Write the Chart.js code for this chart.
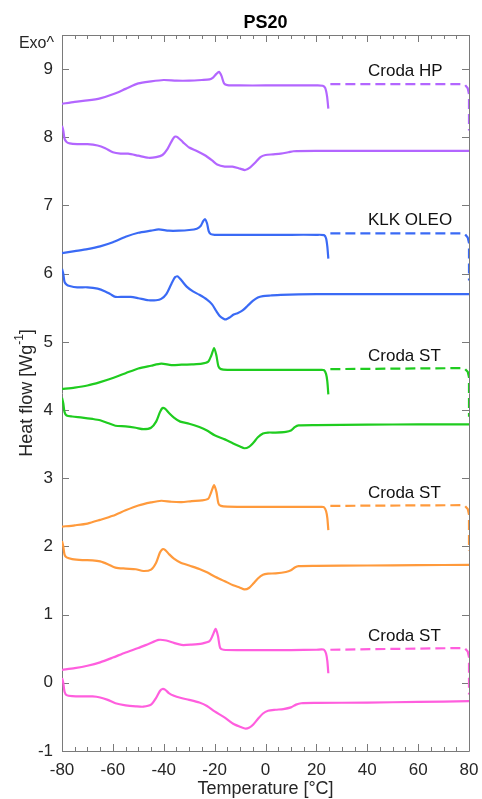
<!DOCTYPE html>
<html>
<head>
<meta charset="utf-8">
<script src="https://cdn.jsdelivr.net/npm/chart.js@4.4.1/dist/chart.umd.min.js"></script>
<style>
  html, body { margin: 0; padding: 0; background: #ffffff; }
  #wrap { width: 482px; height: 799px; }
</style>
</head>
<body>
<div id="wrap"><canvas id="c" width="482" height="799"></canvas></div>
<script>
// ---------------- data ----------------
const chartTitle = 'PS20';
const xAxisTitle = 'Temperature [°C]';
const sampleNames = ['Croda HP', 'KLK OLEO', 'Croda ST', 'Croda ST', 'Croda ST'];
const xTickValues = [-80, -60, -40, -20, 0, 20, 40, 60, 80];
const yTickValues = [-1, 0, 1, 2, 3, 4, 5, 6, 7, 8, 9];

// Croda HP (purple)
const hpCoolT = [-80,-75,-70,-65,-60,-55,-50,-45,-40,-35,-30,-25,-22,-20.5,-19.3,-18.3,-17.3,-16.3,-15,-10,0,10,20,22.5,23.5,24.2,24.7];
const hpCoolQ = [8.49,8.52,8.54,8.57,8.63,8.71,8.79,8.82,8.84,8.83,8.83,8.84,8.85,8.88,8.93,8.96,8.90,8.79,8.765,8.76,8.76,8.76,8.76,8.755,8.72,8.60,8.42];
const hpHeatT = [-80,-79.5,-79,-78.2,-77,-74,-70,-66,-63,-60,-57,-54,-50,-46,-43,-40.5,-38.5,-36.5,-35.5,-34.5,-32.5,-30,-27,-24,-21,-19,-16,-13,-10,-8,-6,-4,-2,0,3,6,9,11,20,40,60,80];
const hpHeatQ = [8.17,8.10,7.98,7.93,7.91,7.90,7.90,7.88,7.84,7.78,7.76,7.76,7.73,7.70,7.71,7.74,7.83,7.97,8.01,8.00,7.93,7.85,7.80,7.74,7.66,7.60,7.57,7.57,7.54,7.52,7.56,7.63,7.71,7.74,7.75,7.76,7.78,7.795,7.80,7.80,7.80,7.80];
const hpLinkT = [25.5,77,78.5,79.5,80,80];
const hpLinkQ = [8.78,8.78,8.765,8.72,8.63,8.10];

// KLK OLEO (blue)
const klkCoolT = [-80,-75,-70,-65,-60,-55,-50,-45,-42,-38,-34,-30,-27,-25.5,-24.5,-23.8,-23,-22.3,-21.5,-20,-10,0,10,20,23,23.8,24.3,24.7];
const klkCoolQ = [6.30,6.33,6.36,6.40,6.46,6.54,6.60,6.63,6.65,6.63,6.63,6.64,6.66,6.70,6.77,6.80,6.74,6.62,6.58,6.57,6.57,6.57,6.57,6.57,6.565,6.52,6.40,6.22];
const klkHeatT = [-80,-79.5,-79,-78.2,-77,-74,-70,-66,-63,-61,-59,-56,-53,-50,-46,-43,-41,-39,-37,-35.5,-34.5,-33,-31,-28.5,-26,-23,-21,-19.5,-18,-16.5,-15.5,-14,-12.5,-11,-9,-7,-5,-3,-1,2,6,20,40,60,80];
const klkHeatQ = [6.07,6.00,5.88,5.84,5.82,5.80,5.80,5.78,5.74,5.70,5.66,5.66,5.66,5.64,5.61,5.61,5.63,5.70,5.85,5.95,5.96,5.90,5.81,5.74,5.69,5.62,5.55,5.46,5.38,5.34,5.33,5.36,5.40,5.42,5.46,5.53,5.60,5.65,5.67,5.68,5.69,5.70,5.70,5.70,5.70];
const klkLinkT = [25.5,77,78.5,79.5,80,80];
const klkLinkQ = [6.59,6.59,6.575,6.53,6.45,5.90];

// Croda ST #1 (green)
const st1CoolT = [-80,-75,-70,-65,-60,-55,-50,-45,-41,-37,-33,-29,-25,-22.5,-21.3,-20.2,-19.3,-18.5,-17.5,-15,-5,5,15,22,23,23.8,24.3,24.7];
const st1CoolQ = [4.31,4.33,4.36,4.41,4.47,4.54,4.61,4.65,4.68,4.66,4.665,4.67,4.68,4.71,4.80,4.91,4.80,4.64,4.60,4.59,4.59,4.59,4.59,4.59,4.585,4.53,4.42,4.23];
const st1HeatT = [-80,-79.5,-79,-78.2,-76,-72,-68,-65,-62,-59,-55,-51,-48,-45,-43,-41.5,-40.5,-39.5,-38,-36,-33.5,-30,-26,-23,-20,-16,-12.7,-10,-8.3,-6.5,-4.8,-3,-1,1,4,8,10,11.5,13,20,40,60,80];
const st1HeatQ = [4.18,4.10,3.97,3.92,3.905,3.89,3.87,3.85,3.81,3.77,3.76,3.74,3.72,3.74,3.83,3.97,4.03,4.02,3.96,3.89,3.83,3.80,3.75,3.70,3.63,3.57,3.51,3.465,3.44,3.46,3.52,3.60,3.655,3.67,3.67,3.68,3.70,3.75,3.775,3.78,3.785,3.79,3.79];
const st1LinkT = [25.5,77,78.5,79.5,80,80];
const st1LinkQ = [4.60,4.615,4.60,4.56,4.48,3.90];

// Croda ST #2 (orange)
const st2CoolT = [-80,-75,-70,-65,-60,-55,-50,-45,-41,-37,-33,-29,-25,-22.5,-21.3,-20.2,-19.3,-18.5,-17.5,-15,-5,5,15,22,23,23.8,24.3,24.7];
const st2CoolQ = [2.29,2.31,2.335,2.39,2.45,2.53,2.60,2.645,2.67,2.655,2.65,2.665,2.675,2.70,2.80,2.90,2.80,2.63,2.595,2.585,2.58,2.58,2.58,2.58,2.575,2.52,2.42,2.24];
const st2HeatT = [-80,-79.5,-79,-78.2,-76,-72,-68,-65,-62,-59,-55,-51,-48,-45,-43,-41.5,-40.5,-39.5,-38,-36,-33.5,-30,-26,-23,-20,-16,-12.7,-10,-8.3,-6.5,-4.8,-3,-1,1,4,8,10,11.5,13,20,40,60,80];
const st2HeatQ = [2.08,2.00,1.88,1.84,1.815,1.80,1.795,1.78,1.74,1.69,1.675,1.665,1.64,1.66,1.76,1.91,1.96,1.95,1.89,1.82,1.765,1.72,1.67,1.62,1.56,1.49,1.43,1.395,1.37,1.39,1.455,1.53,1.585,1.60,1.605,1.625,1.65,1.69,1.71,1.715,1.72,1.725,1.73];
const st2LinkT = [25.5,77,78.5,79.5,80,80];
const st2LinkQ = [2.595,2.605,2.59,2.55,2.47,1.94];

// Croda ST #3 (pink)
const st3CoolT = [-80,-75,-70,-65,-60,-55,-50,-46,-42,-39,-36,-33,-29,-25,-22,-20.7,-19.6,-18.7,-17.8,-16.5,-10,0,10,20,22,23,23.8,24.3,24.7];
const st3CoolQ = [0.19,0.215,0.25,0.30,0.37,0.445,0.51,0.57,0.63,0.62,0.585,0.555,0.56,0.575,0.61,0.70,0.79,0.69,0.51,0.485,0.48,0.48,0.48,0.485,0.49,0.485,0.43,0.32,0.14];
const st3HeatT = [-80,-79.5,-79,-78.2,-76,-72,-68,-65,-62,-59,-55,-51,-48,-45,-43,-41.5,-40.5,-39.5,-38,-36,-33.5,-30,-26,-23,-20,-16,-12.7,-10,-8.1,-6.5,-4.8,-3,-1,1,4,7,10,12,14,20,40,60,80];
const st3HeatQ = [0.07,0.00,-0.13,-0.18,-0.195,-0.20,-0.20,-0.215,-0.25,-0.30,-0.33,-0.345,-0.35,-0.32,-0.22,-0.12,-0.09,-0.10,-0.15,-0.19,-0.22,-0.25,-0.29,-0.34,-0.42,-0.51,-0.60,-0.645,-0.67,-0.66,-0.61,-0.53,-0.45,-0.41,-0.395,-0.385,-0.36,-0.32,-0.30,-0.295,-0.29,-0.28,-0.27];
const st3LinkT = [25.5,77,78.5,79.5,80,80];
const st3LinkQ = [0.485,0.51,0.50,0.46,0.38,-0.17];

// ---------------- styling / assembly ----------------
const FONT = "'Liberation Sans', Arial, Helvetica, sans-serif";
const colors = ['#b366ff', '#3a6af5', '#1fcc1f', '#ff9a3c', '#ff5ede'];
const samples = [
  {cT: hpCoolT, cQ: hpCoolQ, hT: hpHeatT, hQ: hpHeatQ, lT: hpLinkT, lQ: hpLinkQ},
  {cT: klkCoolT, cQ: klkCoolQ, hT: klkHeatT, hQ: klkHeatQ, lT: klkLinkT, lQ: klkLinkQ},
  {cT: st1CoolT, cQ: st1CoolQ, hT: st1HeatT, hQ: st1HeatQ, lT: st1LinkT, lQ: st1LinkQ},
  {cT: st2CoolT, cQ: st2CoolQ, hT: st2HeatT, hQ: st2HeatQ, lT: st2LinkT, lQ: st2LinkQ},
  {cT: st3CoolT, cQ: st3CoolQ, hT: st3HeatT, hQ: st3HeatQ, lT: st3LinkT, lQ: st3LinkQ}
];
const zip = (xs, ys) => xs.map((x, i) => ({x: x, y: ys[i]}));

const datasets = [];
samples.forEach((s, i) => {
  datasets.push({data: zip(s.cT, s.cQ), borderColor: colors[i], borderWidth: 2.2, tension: 0.25, pointRadius: 0, fill: false});
  datasets.push({data: zip(s.hT, s.hQ), borderColor: colors[i], borderWidth: 2.2, tension: 0.25, pointRadius: 0, fill: false});
  datasets.push({data: zip(s.lT, s.lQ), borderColor: colors[i], borderWidth: 2.2, tension: 0, pointRadius: 0, fill: false, borderDash: [10, 5]});
});

const decor = {
  id: 'decor',
  beforeDatasetsDraw(chart) {
    const {ctx, chartArea: a, scales: {x, y}} = chart;
    ctx.save();
    ctx.strokeStyle = '#7a7a7a';
    ctx.lineWidth = 1;
    ctx.beginPath();
    ctx.rect(Math.round(a.left) + 0.5, Math.round(a.top) + 0.5, Math.round(a.right - a.left), Math.round(a.bottom - a.top));
    ctx.stroke();
    ctx.beginPath();
    for (let v = -80; v <= 80; v += 5) {
      const px = Math.round(x.getPixelForValue(v)) + 0.5;
      const len = (v % 20 === 0) ? 7 : 4;
      ctx.moveTo(px, a.bottom); ctx.lineTo(px, a.bottom - len);
      ctx.moveTo(px, a.top); ctx.lineTo(px, a.top + len);
    }
    yTickValues.forEach(v => {
      const py = Math.round(y.getPixelForValue(v)) + 0.5;
      ctx.moveTo(a.left, py); ctx.lineTo(a.left + 7, py);
      ctx.moveTo(a.right, py); ctx.lineTo(a.right - 7, py);
    });
    ctx.stroke();
    ctx.restore();
  },
  afterDraw(chart) {
    const {ctx, chartArea: a, scales: {x, y}} = chart;
    ctx.save();
    // title
    ctx.fillStyle = '#000';
    ctx.font = 'bold 18px ' + FONT;
    ctx.textAlign = 'center';
    ctx.textBaseline = 'middle';
    ctx.fillText(chartTitle, (a.left + a.right) / 2, 23);
    // Exo^
    ctx.font = '16px ' + FONT;
    ctx.fillStyle = '#262626';
    ctx.textAlign = 'right';
    ctx.fillText('Exo^', a.left - 8, 44);
    // x axis title
    ctx.font = '18px ' + FONT;
    ctx.textAlign = 'center';
    ctx.fillText(xAxisTitle, (a.left + a.right) / 2, 789);
    // y axis title with superscript
    ctx.translate(27, (a.top + a.bottom) / 2);
    ctx.rotate(-Math.PI / 2);
    const main = 'Heat flow [Wg', sup = '-1', end = ']';
    ctx.font = '18px ' + FONT;
    const w1 = ctx.measureText(main).width, w3 = ctx.measureText(end).width;
    ctx.font = '12px ' + FONT;
    const w2 = ctx.measureText(sup).width;
    let sx = -(w1 + w2 + w3) / 2;
    ctx.textAlign = 'left';
    ctx.font = '18px ' + FONT;
    ctx.fillText(main, sx, 0);
    ctx.font = '12px ' + FONT;
    ctx.fillText(sup, sx + w1, -7);
    ctx.font = '18px ' + FONT;
    ctx.fillText(end, sx + w1 + w2, 0);
    ctx.restore();
    // sample labels
    ctx.save();
    ctx.font = '17px ' + FONT;
    ctx.fillStyle = '#111';
    ctx.textAlign = 'left';
    ctx.textBaseline = 'middle';
    samples.forEach((s, i) => {
      ctx.fillText(sampleNames[i], x.getPixelForValue(40.3), y.getPixelForValue(s.lQ[0] + 0.19));
    });
    ctx.restore();
  }
};

new Chart(document.getElementById('c'), {
  type: 'line',
  data: {datasets: datasets},
  options: {
    responsive: false,
    devicePixelRatio: 1,
    animation: false,
    layout: {padding: {top: 35, right: 13, left: 0, bottom: 0}},
    plugins: {legend: {display: false}, tooltip: {enabled: false}, title: {display: false}},
    scales: {
      x: {
        type: 'linear', min: -80, max: 80, position: 'bottom',
        afterBuildTicks: s => { s.ticks = xTickValues.map(v => ({value: v})); },
        ticks: {font: {size: 17, family: FONT}, color: '#262626', padding: 9, maxRotation: 0, autoSkip: false},
        grid: {display: false, drawTicks: false},
        border: {display: false},
        afterFit: s => { s.height = 48; s.paddingLeft = 0; s.paddingRight = 0; }
      },
      y: {
        type: 'linear', min: -1, max: 9.5,
        afterBuildTicks: s => { s.ticks = yTickValues.map(v => ({value: v})); },
        ticks: {font: {size: 17, family: FONT}, color: '#262626', padding: 9, autoSkip: false},
        grid: {display: false, drawTicks: false},
        border: {display: false},
        afterFit: s => { s.width = 62; s.paddingTop = 0; s.paddingBottom = 0; }
      }
    }
  },
  plugins: [decor]
});
</script>
</body>
</html>
